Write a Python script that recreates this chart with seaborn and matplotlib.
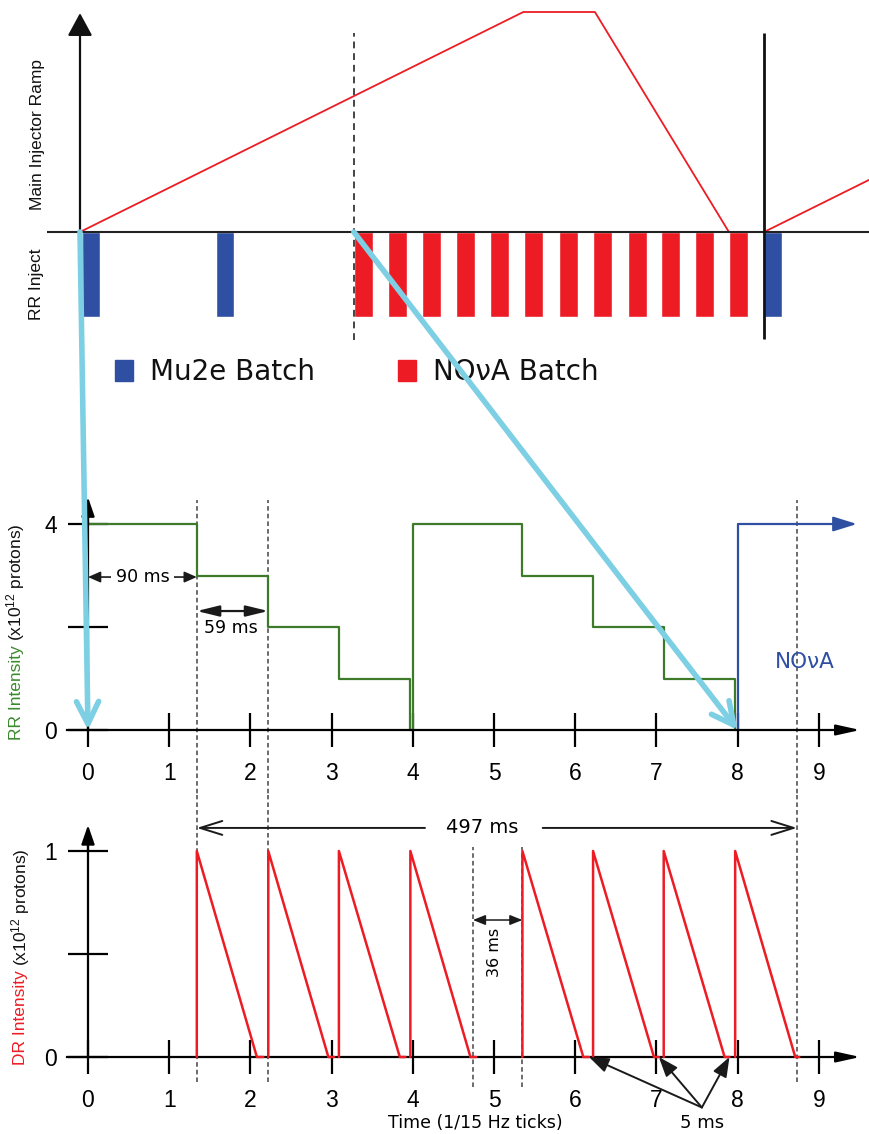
import numpy as np
import pandas as pd
import matplotlib
matplotlib.use("Agg")
import matplotlib.pyplot as plt
import seaborn as sns
from matplotlib.patches import Patch, ConnectionPatch

# ------------------------------------------------------------------ data
# Top panel: time measured in booster-batch slots
ramp_t = [0.0, 13.0, 15.1, 19.03]
ramp_v = [0.0, 1.0, 1.0, 0.0]
ramp2_t = [20.06, 23.2]
ramp2_v = [0.0, 0.2415]
mu2e_batch_t = [0.06, 4.0, 20.06]
nova_batch_t = [8.03, 9.03, 10.03, 11.03, 12.02, 13.02,
                14.05, 15.05, 16.07, 17.04, 18.03, 19.03]
batch_len = 0.386
cycle_start = 8.03
cycle_end = 20.06

# Middle panel: Recycler intensity (x1e12), time in 1/15 Hz ticks
rr_t = [0.0, 1.34, 2.22, 3.09, 3.97, 4.00, 5.35, 6.22, 7.09, 7.97]
rr_v = [4, 3, 2, 1, 0, 4, 3, 2, 1, 0]
nova_t = [8.0, 8.0, 9.3]
nova_v = [0, 4, 4]

# Bottom panel: Delivery ring intensity
dr_rise = [1.34, 2.22, 3.09, 3.97, 5.35, 6.22, 7.09, 7.97]
dr_empty = [2.08, 2.96, 3.84, 4.71, 6.10, 6.97, 7.84, 8.71]
dr_gap_end = [2.16, 3.03, 3.91, 4.78, 6.17, 7.03, 7.90, 8.76]

spill_bounds = [1.34, 2.22, 8.73]
gap_bounds = [4.74, 5.35]
time_ticks = list(range(10))

RED = "#ED1C24"
BLUE = "#2F50A2"
GREEN = "#3D7A2A"
GREEN_LBL = "#3B8A2E"
CYAN = "#7DCFE3"
DASH = "#444444"

# ------------------------------------------------------------------ style
sns.set_theme(style="white")
plt.rcParams["font.family"] = ["Liberation Sans", "DejaVu Sans"]
plt.rcParams["mathtext.default"] = "regular"
plt.rcParams["text.color"] = "black"
plt.rcParams["axes.labelcolor"] = "black"

W, H = 869, 1134
fig = plt.figure(figsize=(W / 100, H / 100), dpi=100)
fig.patch.set_facecolor("white")


def make_axes(top_px, bot_px, x0_px, sx, y0_px, sy):
    ax = fig.add_axes([0, 1 - bot_px / H, 1, (bot_px - top_px) / H])
    lims = ((-x0_px / sx, (W - x0_px) / sx),
            ((y0_px - bot_px) / sy, (y0_px - top_px) / sy))
    ax.patch.set_alpha(0)
    return ax, lims


ax_top, lim_top = make_axes(0, 400, 80, 34.1, 232, 220)
ax_mid, lim_mid = make_axes(400, 795, 88, 81.2, 730, 51.5)
ax_bot, lim_bot = make_axes(795, 1134, 88, 81.2, 1057, 206)

# ------------------------------------------------------------------ top panel
sns.lineplot(x=ramp_t, y=ramp_v, ax=ax_top, color=RED, lw=1.3,
             sort=False, estimator=None)
sns.lineplot(x=ramp2_t, y=ramp2_v, ax=ax_top, color=RED, lw=1.3,
             sort=False, estimator=None)
ax_top.bar(mu2e_batch_t, -batch_len, width=0.53, align="edge", color=BLUE,
           zorder=3)
ax_top.bar(nova_batch_t, -batch_len, width=0.56, align="edge", color=RED,
           zorder=3)
ax_top.hlines(0, -0.97, 23.3, color="#222222", lw=1.5, zorder=4)
ax_top.annotate("", xy=(0, 0.995), xytext=(0, 0),
                arrowprops=dict(arrowstyle="-|>,head_length=0.7,head_width=0.38",
                                color="#111111", lw=1.6, shrinkA=0, shrinkB=0,
                                mutation_scale=20))
ax_top.vlines(cycle_start, -0.49, 0.905, colors=DASH, lw=1.4,
              linestyles=(0, (3.5, 2.5)), zorder=5)
ax_top.vlines(cycle_end, -0.487, 0.905, colors="#111111", lw=2.0, zorder=5)
for s in ax_top.spines.values():
    s.set_visible(False)
ax_top.set_xticks([])
ax_top.set_yticks([])

leg = ax_top.legend(
    handles=[Patch(color=BLUE, label="Mu2e Batch"),
             Patch(color=RED, label="NO\u03bdA Batch")],
    loc="center left", bbox_to_anchor=(115 / W, 1 - 372 / H),
    bbox_transform=fig.transFigure, frameon=False, ncol=2,
    prop=dict(family="DejaVu Sans", size=20),
    handlelength=0.66, handleheight=0.81, handletextpad=0.59,
    columnspacing=3.0, borderpad=0, borderaxespad=0, labelcolor="#111111")

fig.text(38 / W, 1 - 135 / H, "Main Injector Ramp", rotation=90,
         ha="center", va="center", fontsize=12.5, color="#111111")
fig.text(37 / W, 1 - 284 / H, "RR Inject", rotation=90,
         ha="center", va="center", fontsize=12.5, color="#111111")

# ------------------------------------------------------------------ middle panel
sns.lineplot(x=rr_t, y=rr_v, ax=ax_mid, color=GREEN, lw=1.6,
             drawstyle="steps-post", sort=False, estimator=None)
sns.lineplot(x=nova_t, y=nova_v, ax=ax_mid, color=BLUE, lw=1.6,
             sort=False, estimator=None)
ax_mid.annotate("", xy=(9.47, 4), xytext=(9.2, 4),
                arrowprops=dict(arrowstyle="-|>,head_length=0.9,head_width=0.28",
                                color=BLUE, lw=1.6, shrinkA=0, shrinkB=0,
                                mutation_scale=16))
ax_mid.text(8.83, 1.32, "NO\u03bdA", color=BLUE, fontsize=15.5,
            family="DejaVu Sans", ha="center", va="center")

ax_mid.vlines(spill_bounds, -3, 4.46, colors=DASH, lw=1.1,
              linestyles=(0, (3, 2)), zorder=1)

# 90 ms
ax_mid.annotate("", xy=(0, 2.97), xytext=(1.34, 2.97),
                arrowprops=dict(arrowstyle="<|-|>,head_length=0.5,head_width=0.22",
                                color="k", lw=1.2, shrinkA=0, shrinkB=0,
                                mutation_scale=15))
ax_mid.text(0.67, 2.97, "90 ms", ha="center", va="center", fontsize=12.5,
            family="DejaVu Sans",
            bbox=dict(boxstyle="square,pad=0.25", fc="white", ec="none"))
# 59 ms
ax_mid.annotate("", xy=(1.34, 2.31), xytext=(2.22, 2.31),
                arrowprops=dict(arrowstyle="<|-|>,head_length=0.9,head_width=0.22",
                                color="k", lw=1.6, shrinkA=0, shrinkB=0,
                                mutation_scale=15))
ax_mid.text(1.76, 1.98, "59 ms", ha="center", va="center", fontsize=12.5,
            family="DejaVu Sans")

# ------------------------------------------------------------------ bottom panel
rows = []
for i, (r, e, g) in enumerate(zip(dr_rise, dr_empty, dr_gap_end)):
    rows += [(i, r, 0.0), (i, r, 1.0), (i, e, 0.0), (i, g, 0.0)]
dr = pd.DataFrame(rows, columns=["pulse", "t", "v"])
sns.lineplot(data=dr, x="t", y="v", units="pulse", estimator=None,
             sort=False, ax=ax_bot, color=RED, lw=1.8, zorder=4)

ax_bot.vlines(spill_bounds, -0.12, 2, colors=DASH, lw=1.1,
              linestyles=(0, (3, 2)), zorder=1)
ax_bot.vlines(gap_bounds, -0.146, 1.02, colors=DASH, lw=1.1,
              linestyles=(0, (3, 2)), zorder=1)

# 497 ms
arrow_open = dict(arrowstyle="->,head_length=0.8,head_width=0.25",
                  color="k", lw=1.4, shrinkA=0, shrinkB=0, mutation_scale=20)
ax_bot.annotate("", xy=(spill_bounds[0], 1.112), xytext=(4.15, 1.112),
                arrowprops=arrow_open)
ax_bot.annotate("", xy=(spill_bounds[2], 1.112), xytext=(5.6, 1.112),
                arrowprops=arrow_open)
ax_bot.text(4.85, 1.112, "497 ms", ha="center", va="center", fontsize=14,
            family="DejaVu Sans")
# 36 ms
ax_bot.annotate("", xy=(gap_bounds[0], 0.665), xytext=(gap_bounds[1], 0.665),
                arrowprops=dict(arrowstyle="<|-|>,head_length=0.5,head_width=0.2",
                                color="k", lw=1.1, shrinkA=0, shrinkB=0,
                                mutation_scale=15))
ax_bot.text(5.01, 0.51, "36 ms", rotation=90, ha="center", va="center",
            fontsize=11.5, family="DejaVu Sans")
# 5 ms
for g in dr_gap_end[4:7]:
    ax_bot.annotate("", xy=(g, 0.0), xytext=(7.56, -0.245),
                    arrowprops=dict(arrowstyle="-|>,head_length=0.8,head_width=0.3",
                                    color="k", lw=1.4, shrinkA=0, shrinkB=0,
                                    mutation_scale=15), zorder=6)
ax_bot.text(7.56, -0.32, "5 ms", ha="center", va="center", fontsize=13,
            family="DejaVu Sans")
ax_bot.text(4.77, -0.32, "Time (1/15 Hz ticks)", ha="center", va="center",
            fontsize=12.5, family="DejaVu Sans")

# ------------------------------------------------------------------ axes styling
for ax, ytk, ylab, ytop, ybound in (
        (ax_mid, [0, 2, 4], ["0", "", "4"], 4.52, 4.2),
        (ax_bot, [0, 0.5, 1], ["0", "", "1"], 1.126, 1.05)):
    for s in ("top", "right"):
        ax.spines[s].set_visible(False)
    for s in ("left", "bottom"):
        ax.spines[s].set_position(("data", 0))
        ax.spines[s].set_color("black")
        ax.spines[s].set_linewidth(1.6)
        ax.spines[s].set_zorder(3)
    ax.spines["bottom"].set_bounds(-0.26, 9.3)
    ax.spines["left"].set_bounds(0, ybound)
    ax.set_xticks(time_ticks)
    ax.set_xticklabels([str(t) for t in time_ticks])
    ax.set_yticks(ytk)
    ax.set_yticklabels(ylab)
    ax.tick_params(axis="x", bottom=True, direction="inout", length=24.5,
                   width=1.6, pad=11, labelsize=16.5, color="black",
                   labelcolor="black")
    ax.tick_params(axis="y", left=True, direction="inout", length=29,
                   width=1.6, pad=8, labelsize=16.5, color="black",
                   labelcolor="black")
    ax.annotate("", xy=(9.51, 0), xytext=(9.2, 0),
                arrowprops=dict(arrowstyle="-|>,head_length=0.72,head_width=0.16",
                                color="black", lw=1.6, shrinkA=0, shrinkB=0,
                                mutation_scale=20))
    ax.annotate("", xy=(0, ytop), xytext=(0, ybound - 0.05 * ytop),
                arrowprops=dict(arrowstyle="-|>,head_length=0.58,head_width=0.2",
                                color="black", lw=1.6, shrinkA=0, shrinkB=0,
                                mutation_scale=20))
    ax.set(xlabel="", ylabel="")

ax_top.set(xlabel="", ylabel="")
for ax, lims in ((ax_top, lim_top), (ax_mid, lim_mid), (ax_bot, lim_bot)):
    ax.set_xlim(*lims[0])
    ax.set_ylim(*lims[1])

# ------------------------------------------------------------------ two-colour axis titles
renderer = fig.canvas.get_renderer()


def two_colour_label(x_px, y_px, first, colour):
    t1 = fig.text(x_px / W, 1 - y_px / H, first, rotation=90,
                  rotation_mode="anchor", ha="left", va="center",
                  fontsize=12.5, color=colour)
    h = t1.get_window_extent(renderer).height
    fig.text(x_px / W, 1 - (y_px - h - 4) / H, "(x10$^{12}$ protons)",
             rotation=90, rotation_mode="anchor", ha="left", va="center",
             fontsize=12.5, color="#111111")


two_colour_label(16, 740, "RR Intensity", GREEN_LBL)
two_colour_label(21, 1065, "DR Intensity", RED)

# ------------------------------------------------------------------ cyan connectors
for xa, xb in ((0.0, 0.0), (cycle_start, 8.0)):
    con = ConnectionPatch(xyA=(xa, 0), coordsA=ax_top.transData,
                          xyB=(xb, 0), coordsB=ax_mid.transData,
                          arrowstyle="->,head_length=0.8,head_width=0.4",
                          mutation_scale=20, lw=4, color=CYAN, zorder=20,
                          shrinkA=0, shrinkB=0)
    fig.add_artist(con)

fig.savefig("out.png", dpi=100)
